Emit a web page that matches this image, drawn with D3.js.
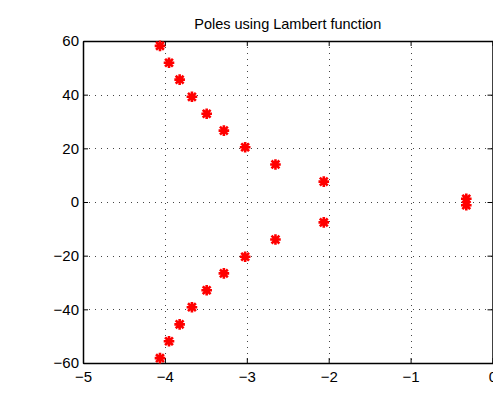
<!DOCTYPE html>
<html>
<head>
<meta charset="utf-8">
<script src="https://cdn.jsdelivr.net/npm/d3@7"></script>
<style>
  body { margin: 0; background: #fff; }
  text { font-family: "Liberation Sans", Arial, Helvetica, sans-serif; }
</style>
</head>
<body>
<div id="chart"></div>
<script>
const poleRe = [-0.32, -0.32, -2.06, -2.06, -2.65, -2.65, -3.02, -3.02, -3.28, -3.28,
                -3.49, -3.49, -3.67, -3.67, -3.82, -3.82, -3.95, -3.95, -4.06, -4.06];
const poleIm = [1.2, -1.2, 7.6, -7.6, 14.0, -14.0, 20.4, -20.4, 26.6, -26.6,
                32.9, -32.9, 39.2, -39.2, 45.6, -45.6, 51.9, -51.9, 58.2, -58.2];
const xTicks = [-5, -4, -3, -2, -1, 0];
const yTicks = [-60, -40, -20, 0, 20, 40, 60];
const title = "Poles using Lambert function";

const W = 493, H = 414;
const margin = {left: 83, right: 0.5, top: 41, bottom: 51};

const svg = d3.select("#chart").append("svg")
  .attr("width", W).attr("height", H);

const x = d3.scaleLinear().domain([-5, 0]).range([margin.left, W - margin.right]);
const y = d3.scaleLinear().domain([-60, 60]).range([H - margin.bottom, margin.top]);

// dotted grid
const grid = svg.append("g")
  .attr("stroke", "#444")
  .attr("stroke-width", 1)
  .attr("stroke-dasharray", "1,5");
grid.selectAll(".gx").data(xTicks.slice(1, -1)).enter().append("line")
  .attr("x1", d => Math.round(x(d)) + 0.5).attr("x2", d => Math.round(x(d)) + 0.5)
  .attr("y1", y(60)).attr("y2", y(-60));
grid.selectAll(".gy").data(yTicks.slice(1, -1)).enter().append("line")
  .attr("y1", d => Math.round(y(d)) + 0.5).attr("y2", d => Math.round(y(d)) + 0.5)
  .attr("x1", x(-5)).attr("x2", x(0));

// axes with inward ticks
const xAxis = svg.append("g")
  .attr("transform", `translate(0,${y(-60)})`)
  .call(d3.axisBottom(x).tickValues(xTicks).tickSizeInner(-5).tickSizeOuter(0).tickPadding(8)
    .tickFormat(d => d3.format("")(d).replace("-", "\u2212")));
const xAxisTop = svg.append("g")
  .attr("transform", `translate(0,${y(60)})`)
  .call(d3.axisTop(x).tickValues(xTicks).tickSizeInner(-5).tickSizeOuter(0).tickFormat(""));
const yAxis = svg.append("g")
  .attr("transform", `translate(${x(-5)},0)`)
  .call(d3.axisLeft(y).tickValues(yTicks).tickSizeInner(-5).tickSizeOuter(0).tickPadding(4)
    .tickFormat(d => d3.format("")(d).replace("-", "\u2212")));
const yAxisRight = svg.append("g")
  .attr("transform", `translate(${x(0)},0)`)
  .call(d3.axisRight(y).tickValues(yTicks).tickSizeInner(-5).tickSizeOuter(0).tickFormat(""));

[xAxis, xAxisTop, yAxis, yAxisRight].forEach(g => {
  g.select(".domain").attr("stroke", "#000").attr("stroke-width", 1.5);
  g.selectAll(".tick line").attr("stroke", "#000");
  g.selectAll("text").attr("font-size", 15).attr("fill", "#000")
    .attr("font-family", "'Liberation Sans', Arial, sans-serif");
});

// markers: thick asterisks
const pts = poleRe.map((r, i) => ({re: r, im: poleIm[i]}));
const star = "M-4,0L4,0M0,-4L0,4M-3,-3L3,3M-3,3L3,-3";
svg.append("g").selectAll("path").data(pts).enter().append("path")
  .attr("transform", d => `translate(${x(d.re)},${y(d.im)})`)
  .attr("d", star)
  .attr("stroke", "#ff0000")
  .attr("stroke-width", 2.6)
  .attr("stroke-linecap", "square")
  .attr("fill", "none");

svg.append("text")
  .attr("x", (x(-5) + x(0)) / 2)
  .attr("y", 29)
  .attr("text-anchor", "middle")
  .attr("font-size", 14.5)
  .attr("fill", "#000")
  .text(title);
</script>
</body>
</html>
